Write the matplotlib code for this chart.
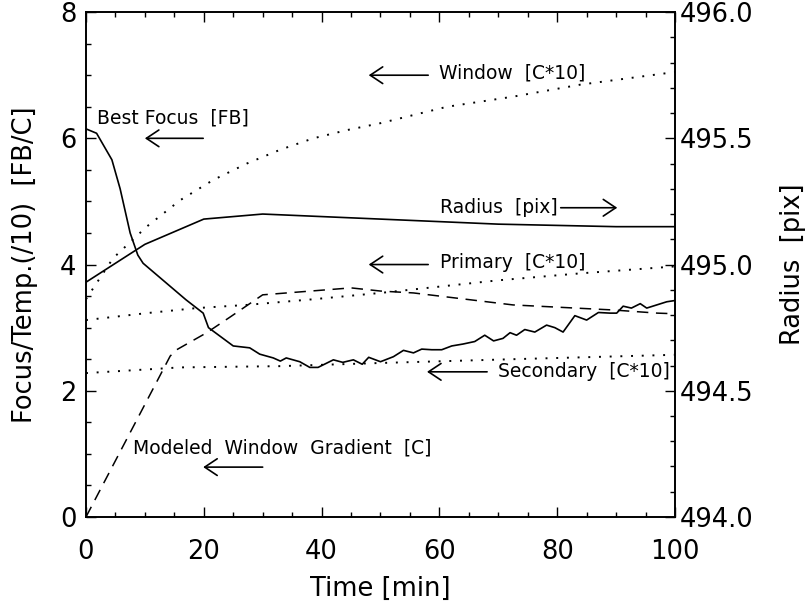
import matplotlib
matplotlib.use("Agg")
import matplotlib.pyplot as plt

# Time axis [min]
focus_t = [0, 1.8, 4.4, 5.8, 7.5, 8.8, 9.7, 17, 19.9, 20.8, 25, 27.8, 29.5, 31.8, 33, 34,
           36.3, 38, 39.4, 42, 43.6, 45.4, 46.9, 48, 50, 52.2, 53.9, 55.6, 57, 58.7,
           60.4, 62.1, 64, 66, 67.7, 69.2, 70.8, 72, 73.1, 74.5, 76.2, 78.2, 79.6, 81,
           83, 85, 87, 89, 90.1, 91.2, 92.6, 94.1, 95.2, 96.9, 98.6, 100]
best_focus = [6.15, 6.08, 5.66, 5.2, 4.5, 4.15, 4.02, 3.44, 3.23, 3.0, 2.71, 2.68, 2.58, 2.52,
              2.47, 2.52, 2.46, 2.37, 2.37, 2.49, 2.45, 2.49, 2.42, 2.53, 2.46, 2.54,
              2.64, 2.6, 2.66, 2.65, 2.65, 2.71, 2.74, 2.78, 2.88, 2.79, 2.83, 2.92,
              2.88, 2.97, 2.93, 3.04, 3.0, 2.93, 3.19, 3.12, 3.24, 3.23, 3.23, 3.34,
              3.31, 3.38, 3.31, 3.36, 3.41, 3.43]

radius_t = [0, 10, 20, 30, 40, 50, 60, 70, 80, 90, 100]
radius = [494.93, 495.08, 495.18, 495.20, 495.19, 495.18, 495.17, 495.16, 495.155, 495.15, 495.15]

window_t = [0, 0.7, 4.6, 10.3, 16, 21.6, 27.3, 33, 38.6, 44.3, 50, 61.3, 72.5, 83.9, 100]
window = [3.45, 3.55, 4.1, 4.6, 5.02, 5.34, 5.6, 5.82, 6.0, 6.13, 6.24, 6.5, 6.66, 6.85, 7.05]

primary_t = [0, 10.3, 18.8, 27.3, 38.6, 50, 60, 70, 83.9, 100]
primary = [3.12, 3.23, 3.31, 3.36, 3.45, 3.55, 3.65, 3.75, 3.86, 3.97]

secondary_t = [0, 16, 33, 50, 72.5, 100]
secondary = [2.28, 2.37, 2.39, 2.44, 2.5, 2.57]

gradient_t = [0, 14.3, 15.4, 20.5, 24.5, 30, 45, 50, 55.6, 72.5, 89.5, 97, 100]
gradient = [0, 2.55, 2.65, 2.92, 3.17, 3.52, 3.63, 3.58, 3.55, 3.36, 3.28, 3.23, 3.22]

FS = 18.5
plt.rcParams["font.family"] = "DejaVu Sans"

fig = plt.figure(figsize=(8.05, 6.05), dpi=100)
ax1 = fig.add_axes([0.1068, 0.1455, 0.7317, 0.8345])
ax2 = ax1.twinx()

ax1.plot(focus_t, best_focus, color="black", lw=1.2)
ax1.plot(window_t, window, color="black", lw=1.4, linestyle=(0, (1, 4.5)))
ax1.plot(primary_t, primary, color="black", lw=1.4, linestyle=(0, (1, 4.5)))
ax1.plot(secondary_t, secondary, color="black", lw=1.4, linestyle=(0, (1, 4.5)))
ax1.plot(gradient_t, gradient, color="black", lw=1.1, linestyle=(0, (7.5, 5)))
ax2.plot(radius_t, radius, color="black", lw=1.2)

ax1.set_xlim(0, 100)
ax1.set_ylim(0, 8)
ax2.set_ylim(494.0, 496.0)

ax1.set_xticks(range(0, 101, 20))
ax1.set_xticks(range(0, 101, 5), minor=True)
ax1.set_yticks(range(0, 9, 2))
ax1.set_yticks([i * 0.5 for i in range(17)], minor=True)
ax2.set_yticks([494.0, 494.5, 495.0, 495.5, 496.0])
ax2.set_yticks([494 + i * 0.1 for i in range(21)], minor=True)
ax2.set_yticklabels(["494.0", "494.5", "495.0", "495.5", "496.0"])

ax1.tick_params(axis="both", which="both", direction="in", top=True, right=False,
                labelsize=FS, width=1.0)
ax1.tick_params(which="major", length=7.5)
ax1.tick_params(which="minor", length=3.8)
ax1.tick_params(axis="x", pad=16)
ax1.tick_params(axis="y", pad=7)
ax2.tick_params(axis="y", which="both", direction="in", labelsize=FS, width=1.0)
ax2.tick_params(which="major", length=7.5)
ax2.tick_params(which="minor", length=3.8)

for ax in (ax1, ax2):
    for s in ax.spines.values():
        s.set_linewidth(1.2)

ax1.set_xlabel("Time [min]", fontsize=FS, labelpad=8)
ax1.set_ylabel("Focus/Temp.(/10)  [FB/C]", fontsize=FS, labelpad=16)
ax2.set_ylabel("Radius  [pix]", fontsize=FS, labelpad=19)

# annotations: (text, text x, text y, arrow tail, arrow head, arrow y)
labels = [
    ("Window  [C*10]", 60, 7.04, 58.1, 48.0, 7.0),
    ("Best Focus  [FB]", 1.9, 6.32, 19.9, 10.0, 6.0),
    ("Primary  [C*10]", 60.1, 4.03, 58.1, 48.0, 4.0),
    ("Secondary  [C*10]", 70, 2.30, 68.1, 57.9, 2.30),
    ("Modeled  Window  Gradient  [C]", 8.0, 1.09, 30.0, 19.9, 0.79),
]
arrow = dict(arrowstyle="->,head_length=0.9,head_width=0.6", lw=1.2, color="black",
             shrinkA=0, shrinkB=0, mutation_scale=10)
for txt, tx, ty, a0, a1, ay in labels:
    ax1.text(tx, ty, txt, fontsize=13.5, va="center", ha="left")
    ax1.annotate("", xy=(a1, ay), xytext=(a0, ay), arrowprops=arrow)

ax1.text(60.1, 4.9, "Radius  [pix]", fontsize=13.5, va="center", ha="left")
ax1.annotate("", xy=(90.2, 4.9), xytext=(80.6, 4.9), arrowprops=arrow)

fig.savefig("out.png", dpi=100)
